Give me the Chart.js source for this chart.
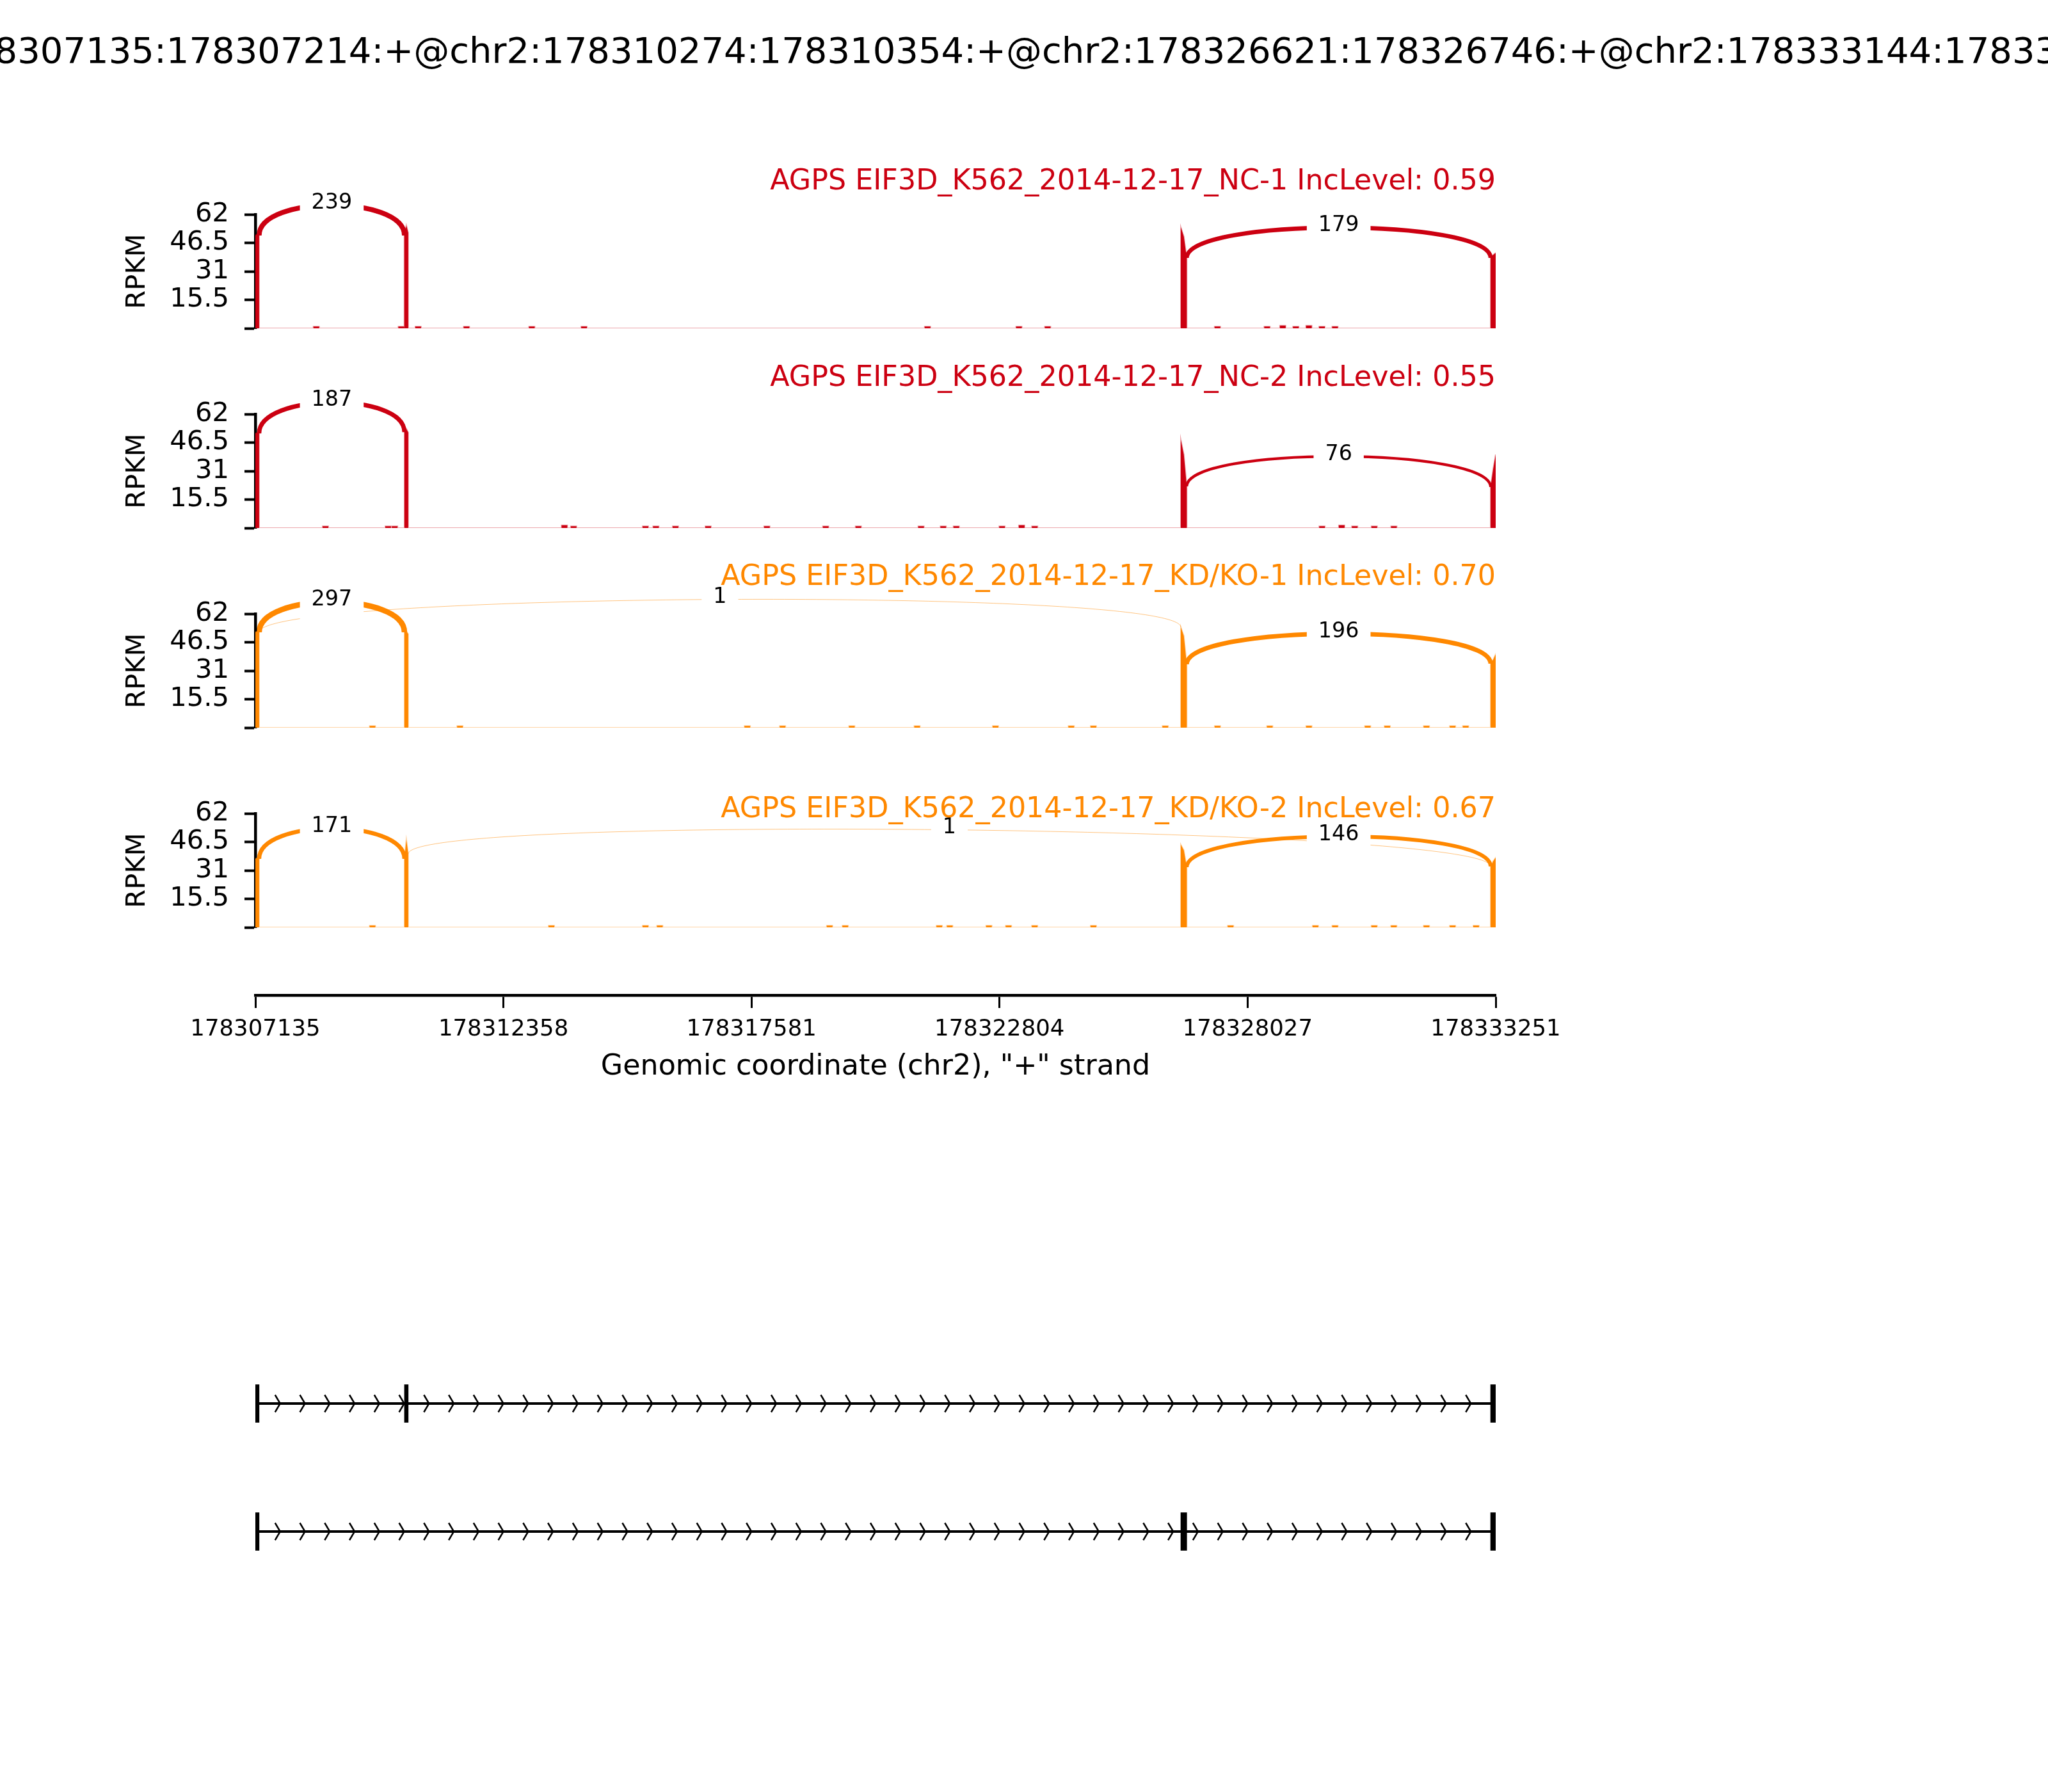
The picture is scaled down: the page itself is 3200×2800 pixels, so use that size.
<!DOCTYPE html>
<html>
<head>
<meta charset="utf-8">
<script src="https://cdn.jsdelivr.net/npm/chart.js@4.4.1/dist/chart.umd.min.js"></script>
<style>
  html, body { margin: 0; padding: 0; background: #ffffff; }
  #page { position: relative; width: 3200px; height: 2800px; overflow: hidden; background: #ffffff; }
  canvas { position: absolute; left: 0; }
  #figtitle { position: absolute; top: 51px; left: 1600px; transform: translateX(-50%);
              white-space: nowrap; font-family: 'DejaVu Sans'; font-size: 56px; line-height: 56px; color: #000; }
</style>
</head>
<body>
<div id="page">
  <div id="figtitle">chr2:178307135:178307214:+@chr2:178310274:178310354:+@chr2:178326621:178326746:+@chr2:178333144:178333251:+</div>
  <canvas id="p0" width="3200" height="600" style="top:0px"></canvas>
  <canvas id="p1" width="3200" height="600" style="top:312px"></canvas>
  <canvas id="p2" width="3200" height="600" style="top:624px"></canvas>
  <canvas id="p3" width="3200" height="600" style="top:936px"></canvas>
  <canvas id="axis" width="3200" height="400" style="top:1400px"></canvas>
  <canvas id="genes" width="3200" height="600" style="top:2000px"></canvas>
</div>
<script>
// ---------------- data ----------------
const X_MIN = 178307135;
const X_MAX = 178333251;
const xTicks = [178307135, 178312358, 178317581, 178322804, 178328027, 178333251];
const yTicks = [0, 15.5, 31, 46.5, 62];

const exonStarts = [178307135, 178310274, 178326621, 178333144];
const exonEnds   = [178307214, 178310354, 178326746, 178333251];
const isoform1Exons = [0, 1, 3];
const isoform2Exons = [0, 2, 3];

// junctions: donor exon index -> acceptor exon index
const juncDonor    = [0, 0, 1, 2];
const juncAcceptor = [1, 2, 3, 3];

const sampleTitles = [
  'AGPS EIF3D_K562_2014-12-17_NC-1 IncLevel: 0.59',
  'AGPS EIF3D_K562_2014-12-17_NC-2 IncLevel: 0.55',
  'AGPS EIF3D_K562_2014-12-17_KD/KO-1 IncLevel: 0.70',
  'AGPS EIF3D_K562_2014-12-17_KD/KO-2 IncLevel: 0.67'
];

// junction read counts (same order as juncDonor/juncAcceptor)
const countsNC1 = [239, 0, 0, 179];
const countsNC2 = [187, 0, 0, 76];
const countsKD1 = [297, 1, 0, 196];
const countsKD2 = [171, 0, 1, 146];

// exon coverage (RPKM) per exon: [at start, middle, at end]
const covNC1 = [[50.5, 51.5, 50.5], [50.5, 56, 52], [55, 50, 38.3], [38.3, 40, 41]];
const covNC2 = [[51.5, 52, 51.5], [52.2, 54, 52], [48, 40, 22.6], [22.3, 32, 40]];
const covKD1 = [[52, 52.5, 51.9], [51.9, 52.5, 51], [54.7, 50, 34.5], [34.8, 37, 40]];
const covKD2 = [[37.3, 38, 37.3], [37.3, 47.7, 40], [45, 42, 32.7], [33.2, 36, 38]];

// sparse intronic read coverage: start positions and RPKM
const blipsNC1 = [178308358, 178310146, 178310503, 178311521, 178312896, 178313996, 178321228, 178323153, 178323758, 178327333, 178328378, 178328708, 178328983, 178329258, 178329533, 178329808];
const blipValsNC1 = [1, 1, 1, 1, 1, 1, 1, 1, 1, 1, 1, 1.5, 1, 1.5, 1, 1];
const blipsNC2 = [178308551, 178309871, 178310008, 178313583, 178313776, 178315289, 178315509, 178315921, 178316609, 178317846, 178319084, 178319772, 178321092, 178321559, 178321834, 178322797, 178323210, 178323485, 178329535, 178329948, 178330223, 178330635, 178331048];
const blipValsNC2 = [1, 1, 1, 1.5, 1, 1, 1, 1, 1, 1, 1, 1, 1, 1, 1, 1, 1.5, 1, 1, 1.5, 1, 1, 1];
const blipsKD1 = [178309541, 178311383, 178317434, 178318176, 178319634, 178321009, 178322659, 178324254, 178324721, 178326234, 178327334, 178328434, 178329259, 178330496, 178330909, 178331734, 178332284, 178332559];
const blipValsKD1 = [1, 1, 1, 1, 1, 1, 1, 1, 1, 1, 1, 1, 1, 1, 1, 1, 1, 1];
const blipsKD2 = [178309541, 178313309, 178315289, 178315591, 178319166, 178319496, 178321476, 178321696, 178322521, 178322934, 178323484, 178324721, 178327609, 178329396, 178329809, 178330634, 178331046, 178331734, 178332284, 178332779];
const blipValsKD2 = [1, 1, 1, 1, 1, 1, 1, 1, 1, 1, 1, 1, 1, 1, 1, 1, 1, 1, 1, 1];

// ---------------- style ----------------
const RED = '#CC0011';
const ORANGE = '#FF8800';
const READ_LEN = 120;
const ARC_RISE = 22;          // bezier control rise, RPKM units
const FONT = 'DejaVu Sans';
const TITLE_SIZE = 44.4;
Chart.defaults.font.family = FONT;
Chart.defaults.color = '#000';

const samples = [
  { counts: countsNC1, cov: covNC1, blips: blipsNC1, vals: blipValsNC1, color: RED,    titleMid: 284.6 },
  { counts: countsNC2, cov: covNC2, blips: blipsNC2, vals: blipValsNC2, color: RED,    titleMid: 279.6 },
  { counts: countsKD1, cov: covKD1, blips: blipsKD1, vals: blipValsKD1, color: ORANGE, titleMid: 278.6 },
  { counts: countsKD2, cov: covKD2, blips: blipsKD2, vals: blipValsKD2, color: ORANGE, titleMid: 329.3 }
];

function coveragePoints(cov, blips, vals) {
  const segs = exonStarts.map((s, i) => [
    { x: s, y: 0 }, { x: s, y: cov[i][0] },
    { x: Math.round((s + exonEnds[i]) / 2), y: cov[i][1] },
    { x: exonEnds[i], y: cov[i][2] }, { x: exonEnds[i], y: 0 }
  ]);
  blips.forEach((p, i) => segs.push([
    { x: p, y: 0 }, { x: p, y: vals[i] }, { x: p + READ_LEN, y: vals[i] }, { x: p + READ_LEN, y: 0 }
  ]));
  segs.sort((a, b) => a[0].x - b[0].x);
  return [].concat(...segs);
}

function hexA(hex, a) {
  const n = parseInt(hex.slice(1), 16);
  return `rgba(${(n >> 16) & 255},${(n >> 8) & 255},${n & 255},${a})`;
}

function junctionPlugin(sample) {
  return {
    id: 'junctions',
    beforeDraw(chart) {
      const { ctx } = chart;
      const x = chart.scales.x, y = chart.scales.y;
      const rise = y.getPixelForValue(0) - y.getPixelForValue(ARC_RISE);
      const labels = [];
      ctx.save();
      juncDonor.forEach((d, j) => {
        const n = sample.counts[j];
        if (!n) return;
        const a = juncAcceptor[j];
        const x1 = x.getPixelForValue(exonEnds[d]);
        const x2 = x.getPixelForValue(exonStarts[a]);
        const y1 = y.getPixelForValue(sample.cov[d][2]);
        const y2 = y.getPixelForValue(sample.cov[a][0]);
        ctx.beginPath();
        ctx.moveTo(x1, y1);
        ctx.bezierCurveTo(x1, y1 - rise, x2, y2 - rise, x2, y2);
        ctx.lineWidth = 0.5 * Math.sqrt(n);
        ctx.strokeStyle = sample.color;
        ctx.stroke();
        labels.push([(x1 + x2) / 2, (y1 + y2) / 2 - 0.75 * rise, String(n)]);
      });
      ctx.font = `33.33px "${FONT}"`;
      ctx.textAlign = 'center';
      ctx.textBaseline = 'middle';
      labels.forEach(([mx, my, t]) => {
        const w = ctx.measureText(t).width;
        ctx.fillStyle = '#ffffff';
        ctx.fillRect(mx - w / 2 - 18, my - 30, w + 36, 60);
        ctx.fillStyle = '#000000';
        ctx.fillText(t, mx, my - 3);
      });
      ctx.restore();
    }
  };
}

samples.forEach((s, i) => {
  const areaTop = 335;   // pixel of 62 RPKM within each panel canvas
  const lh = 2 * (areaTop - s.titleMid);
  const padTop = s.titleMid - lh / 2;
  new Chart(document.getElementById('p' + i), {
    type: 'line',
    data: {
      datasets: [{
        data: coveragePoints(s.cov, s.blips, s.vals),
        fill: 'origin',
        backgroundColor: s.color,
        borderColor: hexA(s.color, 0.35),
        borderWidth: 2,
        pointRadius: 0,
        tension: 0
      }]
    },
    options: {
      responsive: false, animation: false, devicePixelRatio: 1, events: [],
      layout: { padding: { left: 0, right: 863, top: 0, bottom: 87 } },
      plugins: {
        legend: { display: false },
        tooltip: { enabled: false },
        title: {
          display: true, text: sampleTitles[i], color: s.color, align: 'end', fullSize: false,
          font: { size: TITLE_SIZE, weight: 'normal', lineHeight: lh / TITLE_SIZE },
          padding: { top: padTop, bottom: 0 }
        }
      },
      scales: {
        x: { type: 'linear', min: X_MIN, max: X_MAX, display: false },
        y: {
          type: 'linear', min: 0, max: 62, position: 'left',
          afterBuildTicks: sc => { sc.ticks = yTicks.map(v => ({ value: v })); },
          afterFit: sc => { sc.width = 399; },
          ticks: { autoSkip: false, color: '#000', font: { size: 41.67 }, padding: 24, callback: v => (v === 0 ? '' : String(v)) },
          grid: { display: true, drawOnChartArea: false, drawTicks: true, tickLength: 17, tickWidth: 4, tickColor: '#000' },
          border: { display: true, width: 4.5, color: '#000' },
          title: { display: true, text: 'RPKM', color: '#000', font: { size: 41.67 }, padding: { top: 190, bottom: 0 } }
        }
      }
    },
    plugins: [junctionPlugin(s)]
  });
});

// ---------------- genomic axis ----------------
new Chart(document.getElementById('axis'), {
  type: 'line',
  data: { datasets: [] },
  options: {
    responsive: false, animation: false, devicePixelRatio: 1, events: [],
    layout: { padding: { left: 399, right: 863, top: 0, bottom: 45 } },
    plugins: { legend: { display: false }, tooltip: { enabled: false } },
    scales: {
      x: {
        type: 'linear', min: X_MIN, max: X_MAX, position: 'bottom',
        afterBuildTicks: sc => { sc.ticks = xTicks.map(v => ({ value: v })); },
        afterFit: sc => { sc.height = 200; },
        ticks: { autoSkip: false, maxRotation: 0, minRotation: 0, padding: 12.3, color: '#000', font: { size: 35.5 }, callback: v => String(v) },
        grid: { display: true, drawOnChartArea: false, drawTicks: true, tickLength: 20, tickWidth: 3, tickColor: '#000' },
        border: { display: true, width: 4.5, color: '#000' },
        title: { display: true, text: 'Genomic coordinate (chr2), "+" strand', color: '#000', font: { size: TITLE_SIZE }, padding: { top: 0, bottom: 60.8 } }
      },
      y: { display: false }
    }
  }
});

// ---------------- gene models ----------------
const NARROWS = 50;
const chevronPlugin = {
  id: 'chevrons',
  afterDatasetsDraw(chart) {
    const { ctx } = chart;
    const x = chart.scales.x, y = chart.scales.y;
    const x0 = x.getPixelForValue(X_MIN), x1 = x.getPixelForValue(X_MAX);
    const step = (x1 - x0) / NARROWS;
    ctx.save();
    ctx.strokeStyle = '#000';
    ctx.lineWidth = 2.5;
    [0, 1].forEach(r => {
      const yy = y.getPixelForValue(r);
      for (let i = 1; i < NARROWS; i++) {
        const loc = x0 + i * step;
        ctx.beginPath();
        ctx.moveTo(loc - 8, yy - 13.5);
        ctx.lineTo(loc, yy);
        ctx.lineTo(loc - 8, yy + 13.5);
        ctx.stroke();
      }
    });
    ctx.restore();
  }
};

const exonBars = [];
isoform1Exons.forEach(e => exonBars.push({ x: [exonStarts[e], exonEnds[e]], y: 'iso1' }));
isoform2Exons.forEach(e => exonBars.push({ x: [exonStarts[e], exonEnds[e]], y: 'iso2' }));

new Chart(document.getElementById('genes'), {
  type: 'bar',
  data: {
    datasets: [
      { type: 'line', data: [{ x: X_MIN, y: 'iso1' }, { x: X_MAX, y: 'iso1' }], borderColor: '#000', borderWidth: 4, pointRadius: 0, xAxisID: 'x', yAxisID: 'y' },
      { type: 'line', data: [{ x: X_MIN, y: 'iso2' }, { x: X_MAX, y: 'iso2' }], borderColor: '#000', borderWidth: 4, pointRadius: 0, xAxisID: 'x', yAxisID: 'y' },
      { type: 'bar', indexAxis: 'y', data: exonBars, backgroundColor: '#000', borderWidth: 0, barThickness: 59, xAxisID: 'x', yAxisID: 'y' }
    ]
  },
  options: {
    indexAxis: 'y',
    responsive: false, animation: false, devicePixelRatio: 1, events: [],
    layout: { padding: { left: 399, right: 863, top: 93, bottom: 107 } },
    plugins: { legend: { display: false }, tooltip: { enabled: false } },
    scales: {
      x: { type: 'linear', min: X_MIN, max: X_MAX, offset: false, grid: { offset: false }, display: false },
      y: { type: 'category', labels: ['iso1', 'iso2'], offset: true, display: false }
    }
  },
  plugins: [chevronPlugin]
});
</script>
</body>
</html>
